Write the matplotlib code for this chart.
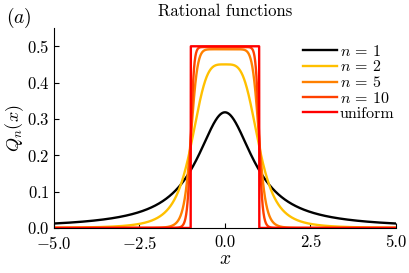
import numpy as np
import matplotlib
matplotlib.use("Agg")
import matplotlib.pyplot as plt

plt.rcParams.update({
    "font.family": "serif",
    "font.serif": ["cmr10"],
    "mathtext.fontset": "cm",
    "axes.formatter.use_mathtext": True,
    "font.size": 12,
    "xtick.direction": "in",
    "ytick.direction": "in",
    "xtick.major.size": 3.5,
    "ytick.major.size": 3.5,
})

# rational family Q_n(x) = c_n / (1 + x^(2n)), plus the uniform limit on [-1, 1]
orders = [1, 2, 5, 10]
labels = [r"$n\,=\,1$", r"$n\,=\,2$", r"$n\,=\,5$", r"$n\,=\,10$"]
colors = ["#000000", "#ffc000", "#ff8000", "#ff4000"]
uniform_edges = [-1.0, 1.0]
uniform_height = 0.5
uniform_color = "#ff0000"

x = np.linspace(-5, 5, 4001)

fig = plt.figure(figsize=(4.09, 2.73), dpi=100)
ax = fig.add_axes([0.132, 0.165, 0.836, 0.732])

for n, lab, col in zip(orders, labels, colors):
    c = n * np.sin(np.pi / (2 * n)) / np.pi
    ax.plot(x, c / (1 + x ** (2 * n)), color=col, lw=1.7, label=lab)

u = np.where((x >= uniform_edges[0]) & (x <= uniform_edges[1]), uniform_height, 0.0)
ax.plot(x, u, color=uniform_color, lw=1.7, label="uniform")

ax.set_xlim(-5, 5)
ax.set_ylim(0, 0.55)
ax.set_xticks([-5, -2.5, 0, 2.5, 5])
ax.set_yticks([0, 0.1, 0.2, 0.3, 0.4, 0.5])
ax.xaxis.set_major_formatter(matplotlib.ticker.FuncFormatter(
    lambda v, p: ("$-$" if v < 0 else "") + f"{abs(v):.1f}"))
ax.tick_params(axis="x", pad=5)
ax.tick_params(axis="y", pad=3)
ax.spines["top"].set_visible(False)
ax.spines["right"].set_visible(False)
ax.set_xlabel("$x$", fontsize=14, labelpad=-1)
ax.set_ylabel("$Q_n(x)$", fontsize=13, labelpad=1)
ax.set_title("Rational functions", fontsize=12, pad=9)
fig.text(0.015, 0.915, "$(a)$", fontsize=14)

ax.legend(loc="upper left", bbox_to_anchor=(0.71, 0.955), frameon=False,
          fontsize=11.5, handlelength=2.1, handletextpad=0.2,
          labelspacing=0.05, borderaxespad=0)

fig.savefig("out.png", dpi=100)
